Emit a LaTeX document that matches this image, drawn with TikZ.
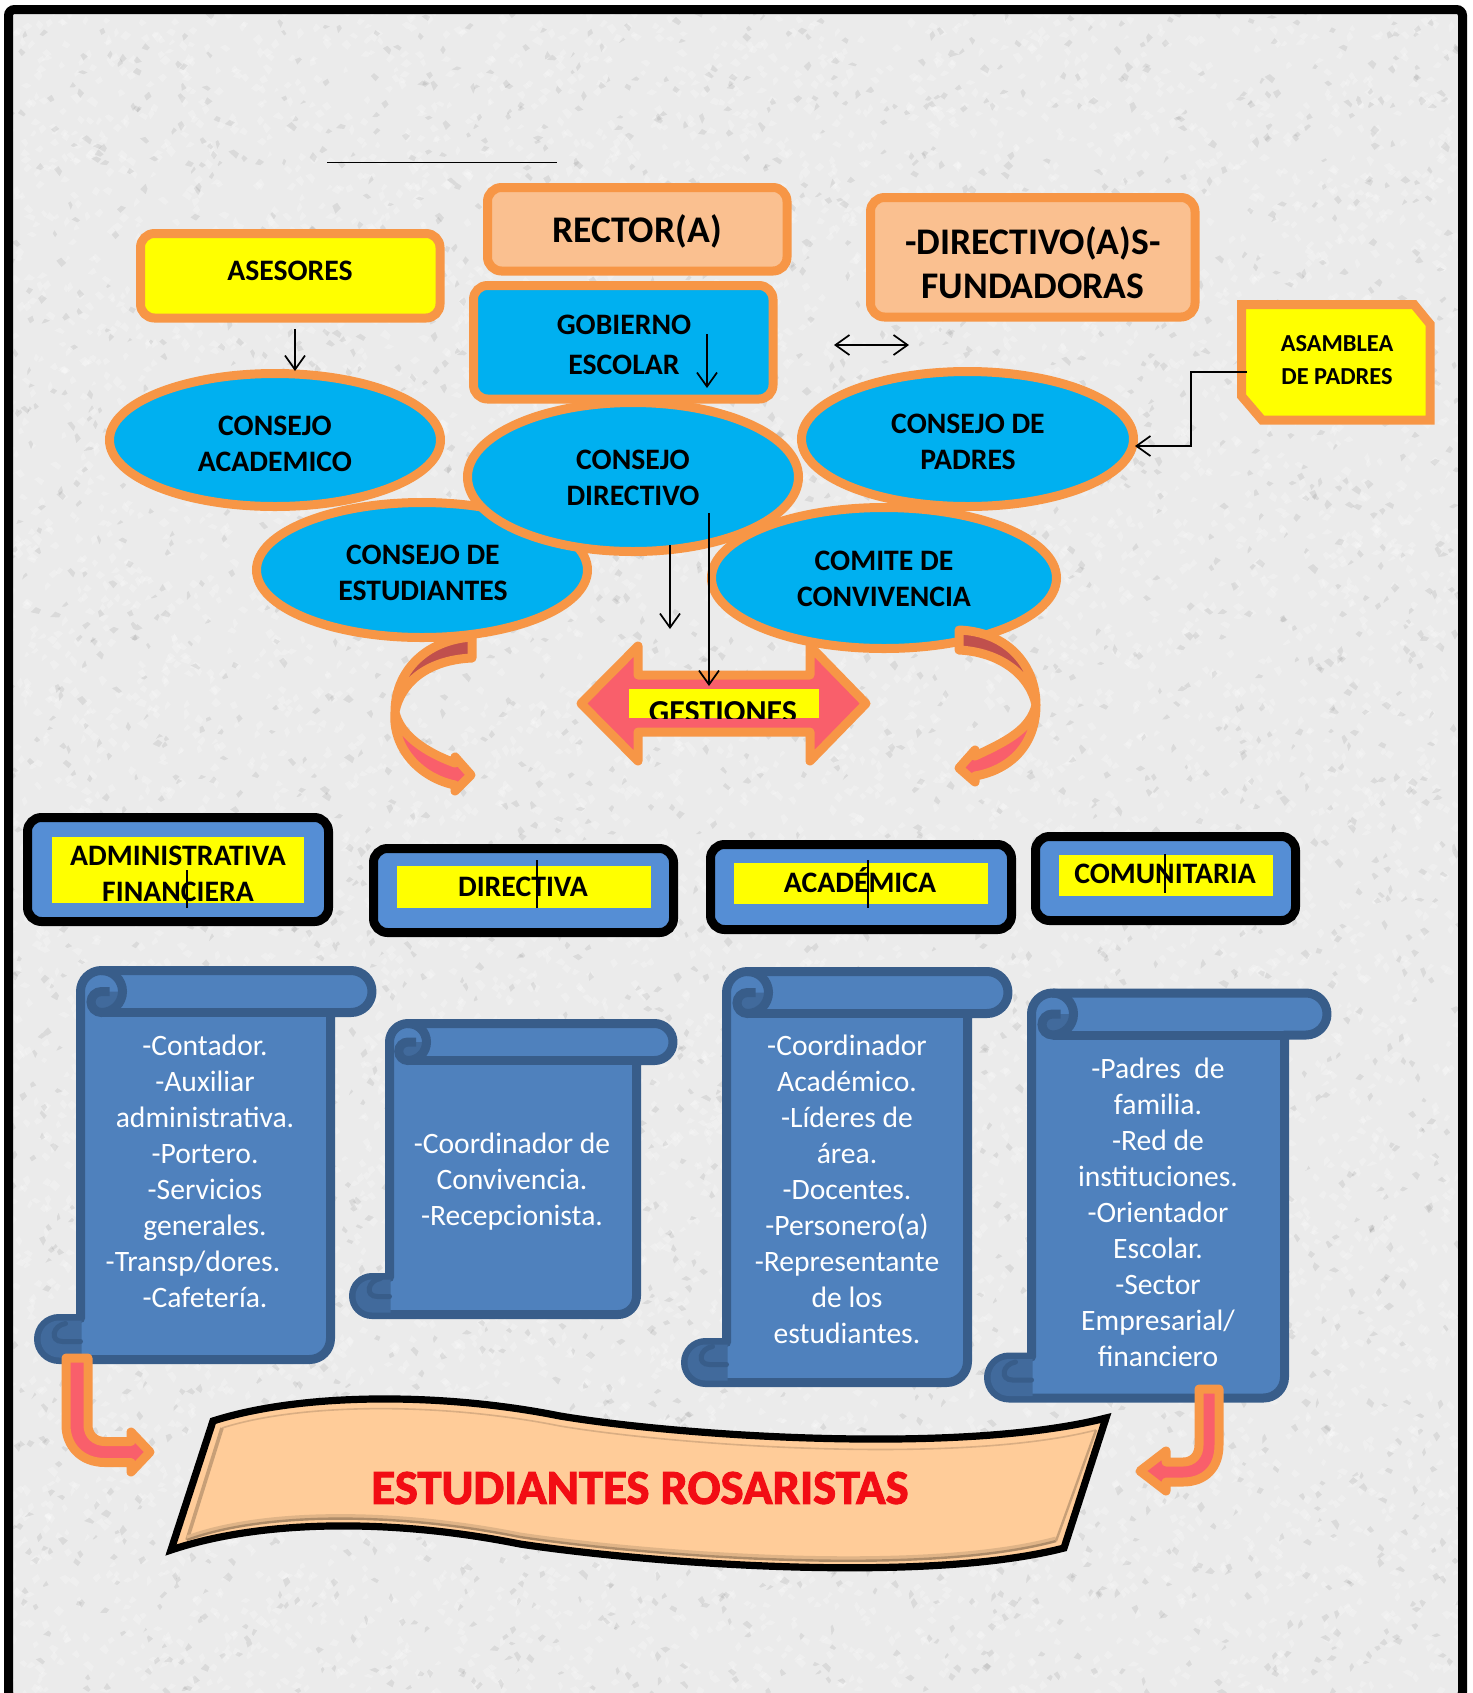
\documentclass[tikz,border=0pt]{standalone}
\usepackage{fontspec}
\setmainfont{Carlito}
\newfontfamily\banfont{Carlito}[UprightFont=*,UprightFeatures={FakeBold=0},BoldFont=*-Bold,BoldFeatures={FakeBold=2.2}]
\usetikzlibrary{arrows.meta,shapes.geometric}
\definecolor{orng}{HTML}{F79646}
\definecolor{peach}{HTML}{FAC090}
\definecolor{sky}{HTML}{00B0F0}
\definecolor{boxblue}{HTML}{558ED5}
\definecolor{scfill}{HTML}{4F81BD}
\definecolor{scline}{HTML}{385D8A}
\definecolor{scdark}{HTML}{416A9C}
\definecolor{pinkr}{HTML}{F95F6B}
\definecolor{darkr}{HTML}{C0504D}
\definecolor{banfill}{HTML}{FFCC99}
\definecolor{redt}{HTML}{F20D14}
\definecolor{yel}{HTML}{FFFF00}
\tikzset{
 orect/.style={draw=orng,line width=4.5pt,rounded corners=7pt,inner sep=0pt},
 brect/.style={draw=black,line width=4.5pt,fill=boxblue,rounded corners=7pt,inner sep=0pt},
 yrect/.style={fill=yel,inner sep=0pt},
 oell/.style={ellipse,draw=orng,line width=4.5pt,fill=sky,inner sep=0pt},
 lab/.style={font=\fontsize{14.85}{18}\selectfont\bfseries,align=center,inner sep=0pt,text=black},
 bigl/.style={font=\fontsize{18.8}{22}\selectfont\bfseries,align=center,inner sep=0pt,text=black},
 smal/.style={font=\fontsize{12.2}{16.5}\selectfont\bfseries,align=center,inner sep=0pt,text=black},
 body/.style={font=\fontsize{14.8}{18}\selectfont,align=center,inner sep=0pt,text=white},
 bant/.style={font=\banfont\fontsize{24.4}{30}\selectfont\bfseries,inner sep=0pt},
 conn/.style={draw=black,line width=0.85pt,-{Straight Barb[length=7pt,width=10pt]}},
 plainl/.style={draw=black,line width=0.85pt},
 shapeo/.style={draw=orng,line width=4.5pt,line join=round},
 scrollst/.style={draw=scline,fill=scfill,line width=4.5pt,line join=round}
}
\newcommand{\bx}[6]{\node[#1,minimum width={(#5-#3)*0.5pt},minimum height={(#6-#4)*0.5pt}] (#2) at ({(#3+#5)/2},{(#4+#6)/2}) {};}
\newcommand{\scrollshape}[8]{%
 \draw[scrollst] (#1,{#2+#7}) arc (180:270:#7) -- ({#3-#7},#2) arc (-90:90:#7) -- (#4,{#2+2*#7}) -- (#4,{#5-#7}) arc (0:90:#7) -- ({#6+#8},#5) arc (90:270:#8) -- (#1,{#5-2*#8}) -- cycle;
 \fill[scdark] ({#1+#7},{#2+2*#7}) arc (90:270:{#7/2}) -- ({#1+2*#7},{#2+#7}) arc (0:90:#7) -- cycle;
 \draw[scline,line width=4.5pt] ({#1+#7},#2) arc (-90:90:#7) arc (90:270:{#7/2}) -- ++(8,0);
 \draw[scline,line width=4.5pt] ({#1+#7},{#2+2*#7}) -- (#4,{#2+2*#7});
 \fill[scdark] ({#6+#8},{#5-2}) arc (90:270:{#8-2}) -- ({#1+1},{#5-2*#8+2}) -- ({#1+1},{#5-2}) -- cycle;
 \draw[scline,line width=2.5pt,line cap=round] ({#6+27},{#5-36}) .. controls ({#6+14},{#5-34}) and ({#6+11},{#5-18}) .. ({#6+24},{#5-18}) -- (#1,{#5-18});
}
\newcommand{\curvefill}[3]{%
 \begin{scope}\clip (#1,600) rectangle (#2,#3); \fill[darkr] \cpath; \end{scope}
 \begin{scope}\clip (#1,#3) rectangle (#2,820); \fill[pinkr] \cpath; \end{scope}
 \draw[shapeo] \cpath;
}
\newcommand{\speck}[1]{({rnd*1473},{rnd*1693}) -- ++({#1+rnd*4},{-#1-rnd*4}) -- ++({#1+rnd*4},{#1+rnd*4}) -- ++({-#1-rnd*4},{#1+rnd*4}) -- cycle}
\begin{document}
\begin{tikzpicture}[x=0.5pt,y=-0.5pt]
\useasboundingbox (0,0) rectangle (1473,1693);
% textured background
\begin{scope}
 \clip (8,9) rectangle (1464,1693);
 \fill[black!8] (0,0) rectangle (1473,1693);
 \pgfmathsetseed{4711}
 \foreach \b in {1,...,34}{
  \fill[white,opacity=0.24] \foreach \i in {1,...,250}{ \speck{2} };
 }
 \foreach \b in {1,...,16}{
  \fill[black,opacity=0.07] \foreach \i in {1,...,200}{ \speck{1.5} };
 }
\end{scope}
% frame
\draw[black,line width=4.5pt,rounded corners=3pt] (8.5,9.5) rectangle (1462.5,1698);
% top line
\coordinate (la) at (327,162.5); \coordinate (lb) at (557,162.5);
\draw[plainl] (la) -- (lb);
% top boxes
\bx{orect,fill=yel}{ases}{140.5}{233.5}{440}{318}
\bx{orect,fill=peach}{rect}{487.5}{187.5}{787}{271}
\bx{orect,fill=peach}{dirf}{870.5}{197.5}{1195}{317}
\bx{orect,fill=sky}{gob}{473.5}{285.5}{773}{399}
% asamblea
\draw[draw=orng,fill=yel,line width=4.5pt,line join=miter] (1241.5,304.5) -- (1414,304.5) -- (1430,324) -- (1430,420) -- (1262,420) -- (1241.5,396) -- cycle;
\node[smal] (asam) at (1337,360.5) {ASAMBLEA\\DE PADRES};
% ellipses
\node[oell,minimum width=331pt*0.5,minimum height=133pt*0.5] (acad) at (275,440) {};
\node[oell,minimum width=332pt*0.5,minimum height=135pt*0.5] (padr) at (967.5,439) {};
\node[oell,minimum width=331pt*0.5,minimum height=135pt*0.5] (estu) at (422,570) {};
\node[oell,minimum width=331pt*0.5,minimum height=149pt*0.5] (cdir) at (633,477) {};
\node[oell,minimum width=345pt*0.5,minimum height=141pt*0.5] (comi) at (884,578) {};
% curved arrows
\def\cpath{(472,637) .. controls (425,640) and (395,672) .. (395,712) .. controls (392,748) and (420,778) .. (455,785) -- (455,791) -- (471,775) -- (455,757) -- (455,763) .. controls (425,752) and (400,735) .. (395,712) .. controls (400,685) and (425,660) .. (472,658) -- cycle}
\curvefill{380}{490}{712}
\def\cpath{(959,630) .. controls (1010,632) and (1036,668) .. (1036,705) .. controls (1036,745) and (1010,770) .. (975,776) -- (975,782) -- (959,768) -- (975,750) -- (975,756) .. controls (1005,742) and (1030,730) .. (1036,705) .. controls (1030,675) and (1000,652) .. (959,650) -- cycle}
\curvefill{945}{1050}{705}
% gestiones arrow
\draw[shapeo,fill=pinkr] (581,703.5) -- (638,646) -- (638,675) -- (810,675) -- (810,646) -- (866,703.5) -- (810,761) -- (810,732) -- (638,732) -- (638,761) -- cycle;
\node[yrect,minimum width=95pt,minimum height=14.5pt] (gesy) at (724,703.5) {};
\begin{scope}
 \clip (629,689) rectangle (819,718);
 \node[lab,font=\fontsize{16}{18}\selectfont\bfseries,anchor=base] (gest) at (723,722) {GESTIONES};
\end{scope}
% black boxes
\bx{brect}{badm}{27.5}{817.5}{328.5}{921.5}
\bx{brect}{bdir}{373.5}{848.5}{673.5}{932.5}
\bx{brect}{baca}{710.5}{844.5}{1011.5}{929.5}
\bx{brect}{bcom}{1035.5}{836.5}{1295.5}{920.5}
\bx{yrect}{yadm}{52}{837}{304}{903}
\bx{yrect}{ydir}{397}{866}{651}{908}
\bx{yrect}{yaca}{734}{863}{988}{904}
\bx{yrect}{ycom}{1059}{855}{1273}{896}
% scrolls
\scrollshape{80.5}{970.5}{372}{330.5}{1359.5}{38.5}{21}{20.5}
\scrollshape{389.5}{1023.5}{673}{636.5}{1314.5}{353.5}{18.5}{18.5}
\scrollshape{726.5}{971.5}{1008}{967.5}{1382.5}{685.5}{21}{20}
\scrollshape{1031.5}{993}{1327}{1284.5}{1398}{988.5}{21}{20.5}
% banner
\draw[black,line width=3.6pt,fill=banfill,line join=miter,miter limit=10] (213,1421) .. controls (300,1393) and (440,1392) .. (560,1416) .. controls (680,1436) and (960,1455) .. (1106,1418) -- (1064,1548) .. controls (920,1585) and (640,1562) .. (520,1544) .. controls (390,1518) and (260,1520) .. (171,1550) -- cycle;
\draw[black!15!banfill,line width=0.8pt] (222,1428) .. controls (300,1403) and (440,1402) .. (560,1426) .. controls (680,1446) and (960,1465) .. (1096,1430);
\draw[black!22!banfill,line width=1.8pt] (222,1428) -- (187,1540);
\draw[black!12!banfill,line width=2.5pt] (187,1538) .. controls (260,1511) and (390,1509) .. (520,1535) .. controls (640,1553) and (920,1576) .. (1056,1539);
\draw[black!32!banfill,line width=1.2pt] (187,1540) .. controls (260,1513) and (390,1511) .. (520,1537) .. controls (640,1555) and (920,1578) .. (1056,1541);
\draw[black!22!banfill,line width=1.2pt] (1096,1430) -- (1056,1541);
% labels
\node[lab] (tase) at (290,271) {ASESORES};
\node[bigl] (trec) at (637,231) {RECTOR(A)};
\node[bigl] (tdir) at (1033,262.5) {-DIRECTIVO(A)S-\\FUNDADORAS};
\node[lab,font=\fontsize{14.85}{20}\selectfont\bfseries] (tgob) at (624,345) {GOBIERNO\\ESCOLAR};
\node[lab] (taca) at (275,444) {CONSEJO\\ACADEMICO};
\node[lab] (tpad) at (968,442) {CONSEJO DE\\PADRES};
\node[lab] (tcdi) at (633,478) {CONSEJO\\DIRECTIVO};
\node[lab] (test) at (423,573) {CONSEJO DE\\ESTUDIANTES};
\node[lab] (tcom) at (884,579) {COMITE DE\\CONVIVENCIA};
\node[lab] (tadm) at (178,874) {ADMINISTRATIVA\\FINANCIERA};
\node[lab] (tdr) at (523,887) {DIRECTIVA};
\node[lab] (tac) at (860,880) {ACADÉMICA};
\node[lab] (tcm) at (1165,874) {COMUNITARIA};
% scroll texts
\node[body] (s1) at (205,1171) {-Contador.\\-Auxiliar\\administrativa.\\-Portero.\\-Servicios\\generales.\\-Transp/dores.\rule{12pt}{0pt}\\-Cafetería.};
\node[body] (s2) at (512,1181.5) {-Coordinador de\\Convivencia.\\-Recepcionista.};
\node[body] (s3) at (847,1189.5) {-Coordinador\\Académico.\\-Líderes de\\área.\\-Docentes.\\-Personero(a)\\-Representante\\de los\\estudiantes.};
\node[body] (s4) at (1158,1212) {-Padres~ de\\familia.\\-Red de\\instituciones.\\-Orientador\\Escolar.\\-Sector\\Empresarial/\\financiero};
% bent arrows
\draw[shapeo,fill=pinkr] (66,1358) -- (88,1358) -- (88,1425) .. controls (88,1435) and (95,1441.5) .. (105,1441.5) -- (131,1441.5) -- (131,1432) -- (150,1452) -- (131,1472) -- (131,1462.5) -- (105,1462.5) .. controls (80,1462.5) and (66,1445) .. (66,1425) -- cycle;
\draw[shapeo,fill=pinkr] (1199,1389) -- (1219,1389) -- (1219,1445) .. controls (1219,1468) and (1205,1482) .. (1183,1482) -- (1166,1482) -- (1166,1491) -- (1140,1471) -- (1166,1451) -- (1166,1462) -- (1183,1462) .. controls (1193,1462) and (1199,1455) .. (1199,1445) -- cycle;
% banner text
\node[bant,text=redt] (tstu) at (640,1488) {ESTUDIANTES ROSARISTAS};
% connectors
\coordinate (a1) at (295,329); \coordinate (a2) at (295,371);
\draw[conn] (a1) -- (a2);
\coordinate (g1) at (707,334); \coordinate (g2) at (707,388);
\draw[conn] (g1) -- (g2);
\coordinate (d1) at (834,345); \coordinate (d2) at (909,345);
\draw[draw=black,line width=0.85pt,{Straight Barb[length=7pt,width=10pt]}-{Straight Barb[length=7pt,width=10pt]}] (d1) -- (d2);
\coordinate (e1) at (1247,372); \coordinate (e2) at (1191,372); \coordinate (e3) at (1191,446); \coordinate (e4) at (1135,446);
\draw[conn] (e1) -- (e2) -- (e3) -- (e4);
\coordinate (h1) at (670,545); \coordinate (h2) at (670,629);
\draw[conn] (h1) -- (h2);
\coordinate (k1) at (709,513); \coordinate (k2) at (709,686);
\draw[conn] (k1) -- (k2);
% thin verticals
\coordinate (v1) at (187,870); \coordinate (v2) at (187,908);
\draw[plainl] (v1) -- (v2);
\coordinate (v3) at (537,860); \coordinate (v4) at (537,908);
\draw[plainl] (v3) -- (v4);
\coordinate (v5) at (868,860); \coordinate (v6) at (868,908);
\draw[plainl] (v5) -- (v6);
\coordinate (v7) at (1165,854); \coordinate (v8) at (1165,893);
\draw[plainl] (v7) -- (v8);
\end{tikzpicture}
\end{document}
